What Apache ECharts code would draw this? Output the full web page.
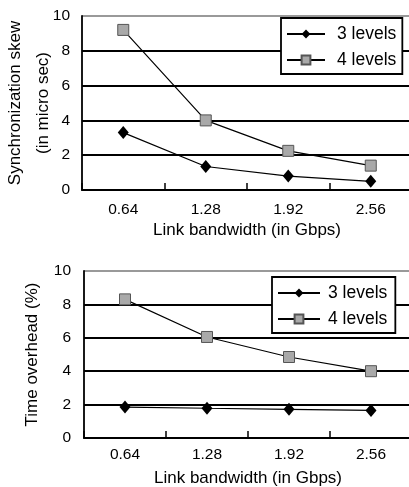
<!DOCTYPE html>
<html>
<head>
<meta charset="utf-8">
<script src="https://cdn.jsdelivr.net/npm/echarts@6/dist/echarts.min.js"></script>
<style>
  html, body { margin: 0; padding: 0; background: #fff; }
  #chart { width: 409px; height: 487px; }
</style>
</head>
<body>
<div id="chart"></div>
<script>
// data
var bandwidths = ['0.64', '1.28', '1.92', '2.56'];
var skew3 = [3.3, 1.35, 0.8, 0.5];
var skew4 = [9.2, 4.0, 2.25, 1.4];
var overhead3 = [1.85, 1.78, 1.72, 1.65];
var overhead4 = [8.3, 6.05, 4.85, 4.0];
var seriesNames = ['3 levels', '4 levels'];

var font = 'Liberation Sans, Arial, sans-serif';
var chart = echarts.init(document.getElementById('chart'));

function xAxisFor(gridIndex, labelMargin, nameGap) {
    return {
        type: 'category',
        gridIndex: gridIndex,
        data: bandwidths,
        boundaryGap: true,
        name: 'Link bandwidth (in Gbps)',
        nameLocation: 'middle',
        nameGap: nameGap,
        nameMoveOverlap: false,
        nameTextStyle: { fontFamily: font, fontSize: 17, color: '#000' },
        axisLine: { lineStyle: { color: '#000', width: 1.8 } },
        axisTick: { show: true, inside: true, length: 7, lineStyle: { color: '#000', width: 1.5 } },
        axisLabel: { margin: labelMargin, fontFamily: font, fontSize: 15.5, color: '#000' },
        splitLine: { show: false }
    };
}

function yAxisFor(gridIndex, name, nameGap, labelMargin) {
    return {
        type: 'value',
        gridIndex: gridIndex,
        min: 0,
        max: 10,
        interval: 2,
        name: name,
        nameLocation: 'middle',
        nameRotate: 90,
        nameGap: nameGap,
        nameMoveOverlap: false,
        nameTextStyle: { fontFamily: font, fontSize: 17, color: '#000', lineHeight: 28 },
        axisLine: { show: true, lineStyle: { color: '#000', width: 1.8 } },
        axisTick: { show: false },
        axisLabel: { margin: labelMargin, fontFamily: font, fontSize: 15.5, color: '#000' },
        splitLine: { show: true, lineStyle: { color: ['#000', '#000', '#000', '#000', '#000', '#999'], width: 1.8 } }
    };
}

function line3(name, data, idx) {
    return {
        name: name, type: 'line', xAxisIndex: idx, yAxisIndex: idx, data: data,
        symbol: 'diamond', symbolSize: [11, 13],
        itemStyle: { color: '#000' },
        lineStyle: { color: '#000', width: 1.2 }
    };
}

function line4(name, data, idx) {
    return {
        name: name, type: 'line', xAxisIndex: idx, yAxisIndex: idx, data: data,
        symbol: 'rect', symbolSize: 11,
        itemStyle: { color: '#a9a9a9', borderColor: '#555', borderWidth: 1 },
        lineStyle: { color: '#000', width: 1.2 }
    };
}

function legendAt(left, top, iconWidth, textGap, padding) {
    return {
        data: seriesNames,
        orient: 'vertical',
        left: left,
        top: top,
        backgroundColor: '#fff',
        borderColor: '#000',
        borderWidth: 1.8,
        padding: padding,
        itemGap: 8,
        itemWidth: iconWidth,
        itemHeight: 11,
        selectedMode: false,
        textStyle: { fontFamily: font, fontSize: 17.5, color: '#000', padding: [0, 0, 0, textGap] }
    };
}

var option = {
    animation: false,
    backgroundColor: '#fff',
    grid: [
        { left: 82, top: 16, right: -3, height: 174, outerBoundsMode: 'none', containLabel: false },
        { left: 84, top: 271, right: -3, height: 167, outerBoundsMode: 'none', containLabel: false }
    ],
    xAxis: [ xAxisFor(0, 12, 32), xAxisFor(1, 9, 32) ],
    yAxis: [
        yAxisFor(0, 'Synchronization skew\n(in micro sec)', 25, 12),
        yAxisFor(1, 'Time overhead (%)', 38, 13)
    ],
    legend: [
        legendAt(281, 18, 38, 7, [7, 6, 5, 5]),
        legendAt(272, 277, 42, 3, [7, 8, 5, 5])
    ],
    series: [
        line3(seriesNames[0], skew3, 0),
        line4(seriesNames[1], skew4, 0),
        line3(seriesNames[0], overhead3, 1),
        line4(seriesNames[1], overhead4, 1)
    ]
};

chart.setOption(option);
</script>
</body>
</html>
